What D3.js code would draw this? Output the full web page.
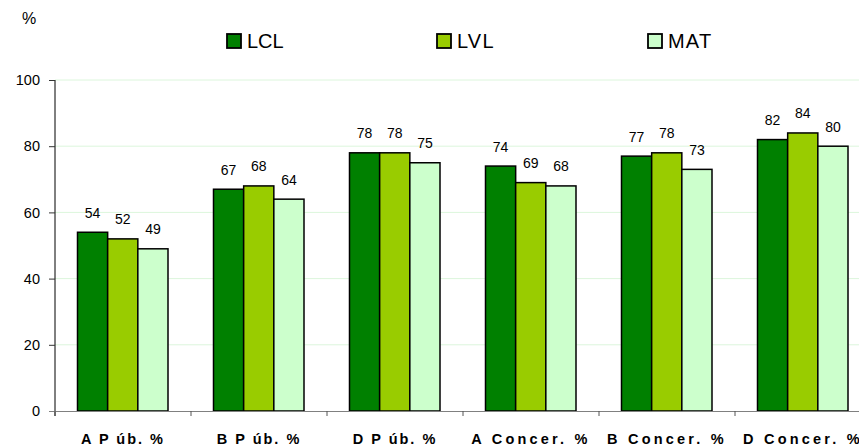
<!DOCTYPE html>
<meta charset="utf-8">
<script src="https://d3js.org/d3.v7.min.js"></script>
<body style="margin:0;background:#fff">
<div id="chart"></div>
</body>
<script>
  // data
  const categories = ["A P úb. %", "B P úb. %", "D P úb. %", "A Concer. %", "B Concer. %", "D Concer. %"];
  const seriesNames = ["LCL", "LVL", "MAT"];
  const lcl = [54, 67, 78, 74, 77, 82];
  const lvl = [52, 68, 78, 69, 78, 84];
  const mat = [49, 64, 75, 68, 73, 80];
  const yTicks = [0, 20, 40, 60, 80, 100];

  const colors = {"LCL": "#008000", "LVL": "#99cc00", "MAT": "#ccffcc"};
  const values = {"LCL": lcl, "LVL": lvl, "MAT": mat};

  const width = 859, height = 448;
  const font = "'Liberation Sans', Arial, sans-serif";

  const svg = d3.select("#chart")
    .append("svg")
      .attr("width", width)
      .attr("height", height)
      .style("font-family", font);

  // the plot runs a bit past the right edge, as in the original
  const x0 = d3.scaleBand().domain(categories).range([55, 871]);
  const x1 = d3.scaleBand().domain(seriesNames).range([22.5, 113]);
  const y = d3.scaleLinear().domain([0, 100]).range([411, 80]);

  // gridlines
  svg.append("g")
    .selectAll("line")
    .data(yTicks.filter(d => d > 0))
    .join("line")
      .attr("x1", 55).attr("x2", width)
      .attr("y1", d => y(d)).attr("y2", d => y(d))
      .attr("stroke", "#dcf6dc")
      .attr("stroke-width", 1);

  // bars
  const groups = svg.append("g")
    .selectAll("g")
    .data(categories)
    .join("g")
      .attr("transform", d => `translate(${x0(d)},0)`);

  groups.selectAll("rect")
    .data((d, i) => seriesNames.map(s => ({s: s, v: values[s][i]})))
    .join("rect")
      .attr("x", d => x1(d.s))
      .attr("y", d => y(d.v))
      .attr("width", x1.bandwidth())
      .attr("height", d => y(0) - y(d.v))
      .attr("fill", d => colors[d.s])
      .attr("stroke", "#000")
      .attr("stroke-width", 1.5);

  groups.selectAll("text")
    .data((d, i) => seriesNames.map(s => ({s: s, v: values[s][i]})))
    .join("text")
      .attr("x", d => x1(d.s) + x1.bandwidth() / 2)
      .attr("y", d => y(d.v) - 14.5)
      .attr("text-anchor", "middle")
      .style("font-size", "14px")
      .style("fill", "#000")
      .text(d => d.v);

  // y axis
  const yAxis = svg.append("g")
    .attr("transform", "translate(55,0)")
    .call(d3.axisLeft(y).tickValues(yTicks).tickSize(6).tickPadding(9));
  yAxis.select(".domain").attr("stroke", "#000").attr("d", `M0,${y(100)}V${y(0) + 5}`);
  yAxis.selectAll(".tick line").attr("stroke", "#333");
  yAxis.selectAll("text")
    .style("font-size", "14.5px")
    .style("font-family", font)
    .attr("fill", "#000");

  // x axis
  const xAxis = svg.append("g")
    .attr("transform", `translate(0,${y(0)})`)
    .call(d3.axisBottom(x0).tickSize(0).tickPadding(0));
  xAxis.select(".domain").attr("stroke", "#808080").attr("d", `M49,0.5H${width}`);
  xAxis.selectAll(".tick text").remove();

  svg.append("g")
    .selectAll("line")
    .data(categories)
    .join("line")
      .attr("x1", d => x0(d)).attr("x2", d => x0(d))
      .attr("y1", y(0)).attr("y2", y(0) + 5)
      .attr("stroke", "#555");

  svg.append("g")
    .selectAll("text")
    .data(categories)
    .join("text")
      .attr("x", d => x0(d) + x0.bandwidth() / 2)
      .attr("y", 444)
      .attr("text-anchor", "middle")
      .style("font-size", "14.5px")
      .style("font-weight", "bold")
      .style("letter-spacing", d => d.includes("Concer") ? "3.2px" : "2px")
      .text(d => d);

  // % unit label
  svg.append("text")
    .attr("x", 22).attr("y", 24)
    .style("font-size", "16px")
    .text("%");

  // legend
  const legendX = [227, 437, 648];
  const legend = svg.append("g")
    .selectAll("g")
    .data(seriesNames)
    .join("g")
      .attr("transform", (d, i) => `translate(${legendX[i]},34)`);
  legend.append("rect")
    .attr("width", 14).attr("height", 14)
    .attr("fill", d => colors[d])
    .attr("stroke", "#000")
    .attr("stroke-width", 1.8);
  legend.append("text")
    .attr("x", 20).attr("y", 14)
    .style("font-size", "20px")
    .style("letter-spacing", d => d == "LCL" ? "0px" : "1.2px")
    .text(d => d);
</script>
